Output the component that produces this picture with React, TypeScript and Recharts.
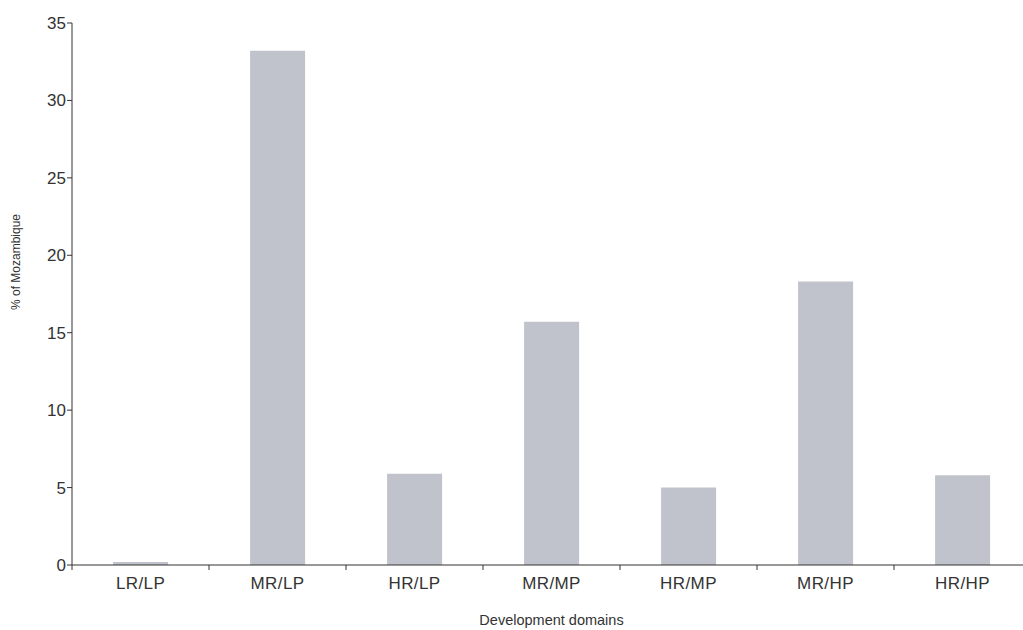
import { Bar, BarChart, Label, XAxis, YAxis } from "recharts";

const domains = ["LR/LP", "MR/LP", "HR/LP", "MR/MP", "HR/MP", "MR/HP", "HR/HP"];
const shares = [0.2, 33.2, 5.9, 15.7, 5.0, 18.3, 5.8];
const yTicks = [0, 5, 10, 15, 20, 25, 30, 35];

const data = domains.map((d, i) => ({ domain: d, share: shares[i] }));

const FONT = "'Liberation Sans', Arial, sans-serif";
const TEXT = "#333";
const TICK_SIZE = 5;
const TICK_MARGIN = 7;

// category label plus a small tick at the left edge of the band
const DomainTick = (props: any) => {
  const { x, y, payload } = props;
  const half = payload?.offset ?? 68.5;
  const axisY = y - TICK_SIZE - TICK_MARGIN;
  return (
    <g>
      <line x1={x - half} x2={x - half} y1={axisY} y2={axisY + TICK_SIZE} stroke="#333" strokeWidth={1} />
      <text
        x={x}
        y={y}
        dy="0.71em"
        textAnchor="middle"
        fill={TEXT}
        fontSize={17}
        letterSpacing={0.4}
        fontFamily={FONT}
      >
        {payload.value}
      </text>
    </g>
  );
};

export default function App() {
  return (
    <div style={{ width: 1023, height: 630, overflow: "hidden" }}>
      <style>{"body{margin:0;overflow:hidden}"}</style>
      <BarChart
        width={1031}
        height={630}
        data={data}
        margin={{ top: 23, right: 0, left: 0, bottom: 0 }}
        barCategoryGap="30%"
      >
        <XAxis
          dataKey="domain"
          height={65}
          stroke="#333"
          tickLine={false}
          tickSize={TICK_SIZE}
          tickMargin={TICK_MARGIN}
          tick={<DomainTick />}
          interval={0}
        >
          <Label
            content={({ viewBox }: any) => (
              <text
                x={viewBox.x + viewBox.width / 2}
                y={viewBox.y + 60}
                textAnchor="middle"
                fill={TEXT}
                fontSize={14.5}
                fontFamily={FONT}
              >
                Development domains
              </text>
            )}
          />
        </XAxis>
        <YAxis
          width={72}
          domain={[0, 35]}
          ticks={yTicks}
          interval={0}
          stroke="#333"
          tickSize={5}
          tickMargin={1}
          tick={{ fill: TEXT, fontSize: 17, fontFamily: FONT }}
        >
          <Label
            content={({ viewBox }: any) => {
              const cx = viewBox.x + 20;
              const cy = viewBox.y + viewBox.height / 2 - 32;
              return (
                <text
                  x={cx}
                  y={cy}
                  transform={`rotate(-90, ${cx}, ${cy})`}
                  textAnchor="middle"
                  fill={TEXT}
                  fontSize={12}
                  fontFamily={FONT}
                >
                  % of Mozambique
                </text>
              );
            }}
          />
        </YAxis>
        <Bar dataKey="share" fill="#c0c3cb" isAnimationActive={false} />
      </BarChart>
    </div>
  );
}
